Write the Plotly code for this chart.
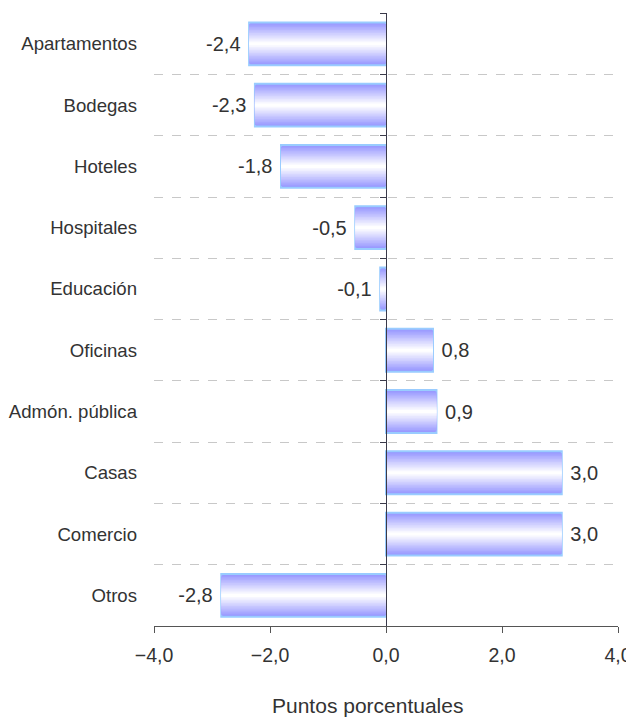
import plotly.graph_objects as go

categories = ["Apartamentos", "Bodegas", "Hoteles", "Hospitales", "Educación",
              "Oficinas", "Admón. pública", "Casas", "Comercio", "Otros"]
values = [-2.36, -2.26, -1.81, -0.53, -0.10, 0.81, 0.87, 3.03, 3.03, -2.84]
x_ticks = [-4, -2, 0, 2, 4]
x_title = "Puntos porcentuales"

NB = "\u00a0"
label_tpl = [("%{x:.1f}" + NB) if v < 0 else (NB + "%{x:.1f}") for v in values]

fig = go.Figure()

N = 14
bar_w = 0.7
edge = (150, 150, 255)
for i in range(N):
    t = i / (N - 1)
    c = tuple(int(round(e + (255 - e) * t)) for e in edge)
    w = bar_w * (1 - i / N)
    first = i == 0
    fig.add_trace(go.Bar(
        y=categories, x=values, orientation="h", width=w,
        marker=dict(color="rgb(%d,%d,%d)" % c,
                    line=dict(color="#99ccff" if first else "rgba(0,0,0,0)",
                              width=2 if first else 0)),
        texttemplate=label_tpl if first else None,
        textposition="outside" if first else "none",
        constraintext="none",
        textfont=dict(family="Liberation Sans, Arial", size=20, color="#333333"),
        cliponaxis=False, showlegend=False,
        hoverinfo="skip" if not first else None,
    ))

# invisible trace carrying the category axis drawn at x = 0
fig.add_trace(go.Scatter(y=categories, x=values, mode="none", yaxis="y2",
                         showlegend=False, hoverinfo="skip"))

yrange = [9.5, -0.503]
fig.update_layout(
    width=626, height=711,
    barmode="overlay",
    separators=",.",
    paper_bgcolor="white", plot_bgcolor="white",
    margin=dict(l=146, r=16, t=5, b=93),
    font=dict(family="Liberation Sans, Arial", color="#333333"),
    xaxis=dict(
        range=[-4, 4], tickvals=x_ticks, tickformat=".1f", automargin=False,
        showgrid=False, zeroline=False,
        showline=True, linecolor="#555555", linewidth=1,
        ticks="outside", ticklen=6, tickcolor="#555555", ticklabelstandoff=6,
        tickfont=dict(size=19.5, color="#333333"),
    ),
    yaxis=dict(
        categoryorder="array", categoryarray=categories, range=yrange, automargin=False,
        tickson="boundaries", showgrid=True, gridcolor="#c8c8c8", griddash="dash", gridwidth=1,
        ticks="", ticklabelstandoff=16,
        tickfont=dict(size=18.6, color="#333333"),
    ),
    yaxis2=dict(
        overlaying="y", anchor="free", position=0.5, side="left",
        categoryorder="array", categoryarray=categories, range=yrange, automargin=False,
        tickson="boundaries", showgrid=False, showticklabels=False,
        showline=True, linecolor="#3a3a4a", linewidth=1.3,
        ticks="outside", ticklen=6, tickcolor="#3a3a4a",
    ),
    annotations=[dict(
        text=x_title, xref="paper", yref="paper", x=0.461, y=-0.1305,
        xanchor="center", yanchor="middle", showarrow=False,
        font=dict(size=21, color="#333333"),
    )],
)

fig.write_html("out.html")
